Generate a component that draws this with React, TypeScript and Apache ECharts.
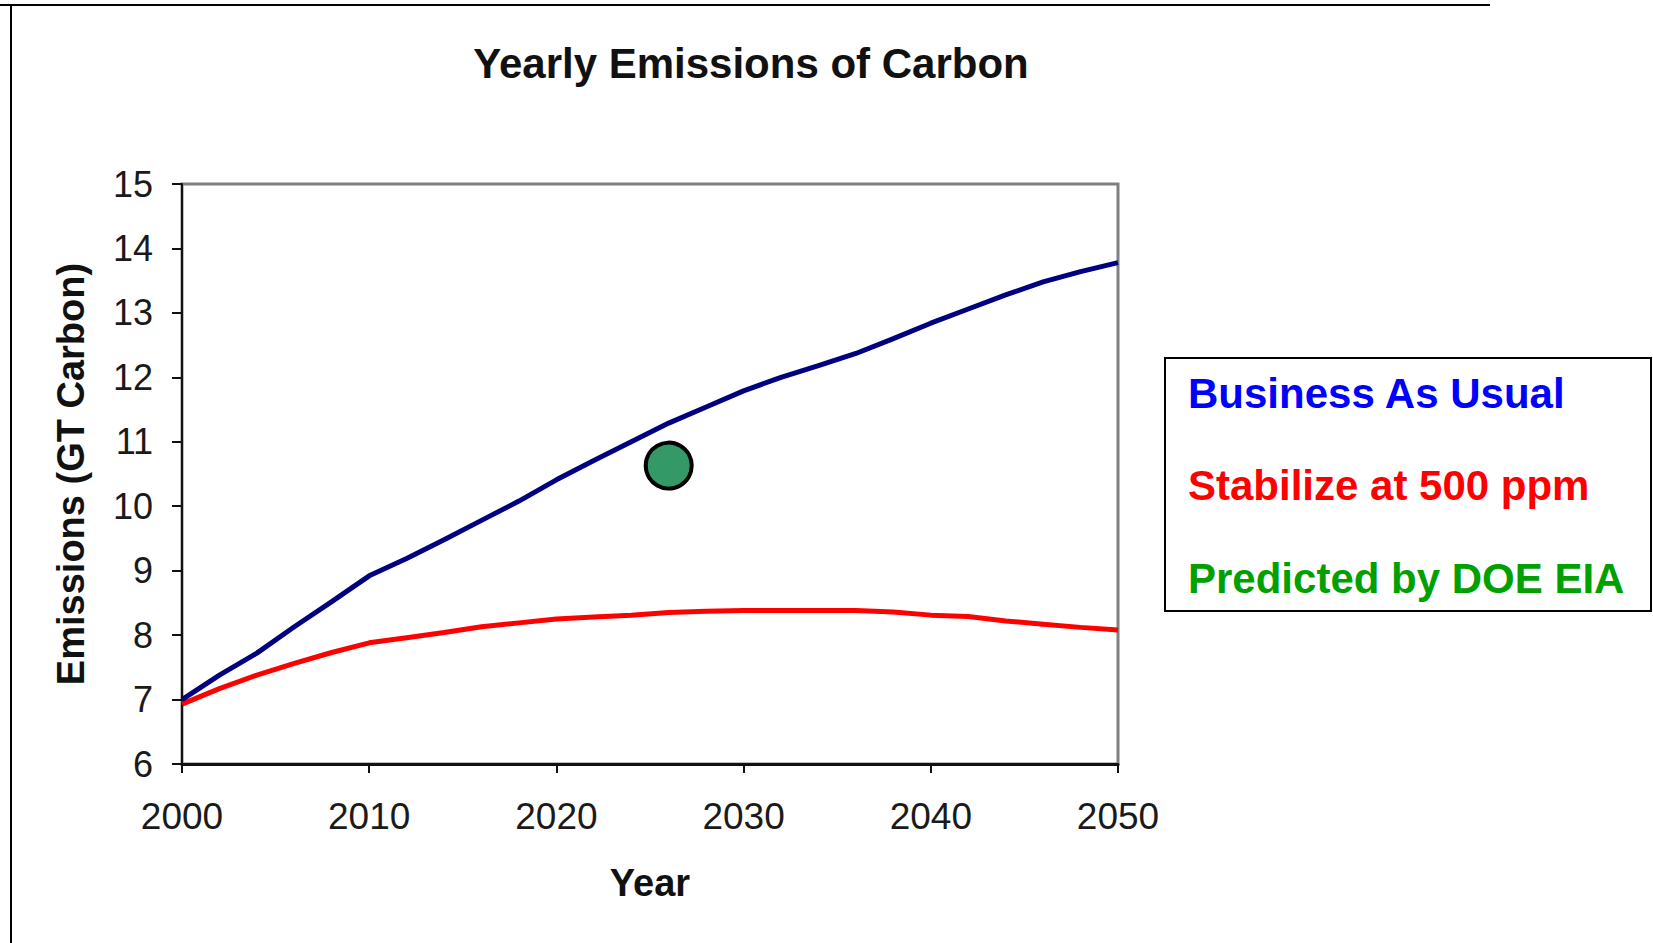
import React, { useEffect, useRef } from "react";
import * as echarts from "echarts";

const years = [2000, 2002, 2004, 2006, 2008, 2010, 2012, 2014, 2016, 2018, 2020, 2022, 2024, 2026, 2028, 2030, 2032, 2034, 2036, 2038, 2040, 2042, 2044, 2046, 2048, 2050];
const businessAsUsual = [7.0, 7.38, 7.72, 8.13, 8.52, 8.92, 9.19, 9.48, 9.78, 10.08, 10.41, 10.71, 11.0, 11.29, 11.54, 11.79, 12.0, 12.18, 12.37, 12.6, 12.84, 13.06, 13.28, 13.48, 13.64, 13.78];
const stabilize500 = [6.93, 7.17, 7.38, 7.56, 7.73, 7.88, 7.96, 8.04, 8.13, 8.19, 8.25, 8.28, 8.31, 8.35, 8.37, 8.38, 8.38, 8.38, 8.38, 8.36, 8.31, 8.29, 8.22, 8.17, 8.12, 8.08];
const doeYear = [2026];
const doeValue = [10.63];

const seriesNames = ["Business As Usual", "Stabilize at 500 ppm", "Predicted by DOE EIA"];
const seriesColors = ["#0000FF", "#FF0000", "#00A000"];
const chartTitle = "Yearly Emissions of Carbon";
const xAxisTitle = "Year";
const yAxisTitle = "Emissions (GT Carbon)";

const FONT = "'Liberation Sans', Arial, Helvetica, sans-serif";

export default function App() {
  const ref = useRef<HTMLDivElement>(null);
  useEffect(() => {
    if (!ref.current) return;
    const chart = echarts.init(ref.current, undefined, { renderer: "svg" });
    const legendTop = [393, 485, 578];
    chart.setOption({
      animation: false,
      backgroundColor: "#ffffff",
      grid: {
        left: 182,
        top: 184,
        right: 535,
        bottom: 179,
        show: true,
        borderColor: "#808080",
        borderWidth: 3,
        backgroundColor: "transparent",
      },
      xAxis: {
        type: "value",
        min: 2000,
        max: 2050,
        interval: 10,
        name: xAxisTitle,
        nameLocation: "middle",
        nameGap: 100,
        nameTextStyle: { fontFamily: FONT, fontSize: 38, fontWeight: "bold", color: "#111" },
        axisLine: { show: true, lineStyle: { color: "#111", width: 3 } },
        axisTick: { show: true, inside: false, length: 9, lineStyle: { color: "#111", width: 2 } },
        axisLabel: { fontFamily: FONT, fontSize: 37, color: "#1a1a1a", margin: 34, formatter: (v: number) => String(v) },
        splitLine: { show: false },
      },
      yAxis: {
        type: "value",
        min: 6,
        max: 15,
        interval: 1,
        name: yAxisTitle,
        nameLocation: "middle",
        nameGap: 92,
        nameRotate: 90,
        nameTextStyle: { fontFamily: FONT, fontSize: 38, fontWeight: "bold", color: "#111" },
        axisLine: { show: true, lineStyle: { color: "#111", width: 2 } },
        axisTick: { show: true, inside: false, length: 10, lineStyle: { color: "#111", width: 2 } },
        axisLabel: { fontFamily: FONT, fontSize: 36, color: "#1a1a1a", margin: 29 },
        splitLine: { show: false },
      },
      series: [
        {
          name: seriesNames[0],
          type: "line",
          data: years.map((y, i) => [y, businessAsUsual[i]]),
          showSymbol: false,
          lineStyle: { color: "#000080", width: 5 },
          itemStyle: { color: "#000080" },
          z: 3,
        },
        {
          name: seriesNames[1],
          type: "line",
          data: years.map((y, i) => [y, stabilize500[i]]),
          showSymbol: false,
          lineStyle: { color: "#FF0000", width: 5 },
          itemStyle: { color: "#FF0000" },
          z: 2,
        },
        {
          name: seriesNames[2],
          type: "scatter",
          data: doeYear.map((y, i) => [y, doeValue[i]]),
          symbol: "circle",
          symbolSize: 46,
          itemStyle: { color: "#339966", borderColor: "#000", borderWidth: 4, opacity: 1 },
          z: 4,
        },
      ],
      graphic: [
        { type: "line", shape: { x1: 0, y1: 5, x2: 1490, y2: 5 }, style: { stroke: "#000", lineWidth: 2 } },
        { type: "line", shape: { x1: 11, y1: 5, x2: 11, y2: 943 }, style: { stroke: "#000", lineWidth: 2 } },
        {
          type: "text",
          x: 751,
          y: 63,
          style: { text: chartTitle, fontFamily: FONT, fontSize: 42, fontWeight: "bold", fill: "#111", textAlign: "center", textVerticalAlign: "middle" },
        },
        {
          type: "rect",
          shape: { x: 1165, y: 358, width: 486, height: 253 },
          style: { fill: "#fff", stroke: "#000", lineWidth: 2 },
        },
        ...seriesNames.map((n, i) => ({
          type: "text",
          x: 1188,
          y: legendTop[i],
          style: { text: n, fontFamily: FONT, fontSize: 42, fontWeight: "bold", fill: seriesColors[i], textAlign: "left", textVerticalAlign: "middle" },
        })),
      ],
    });
    return () => chart.dispose();
  }, []);
  return (
    <div
      ref={ref}
      style={{ position: "fixed", left: 0, top: 0, width: 1653, height: 943, background: "#fff" }}
    />
  );
}
